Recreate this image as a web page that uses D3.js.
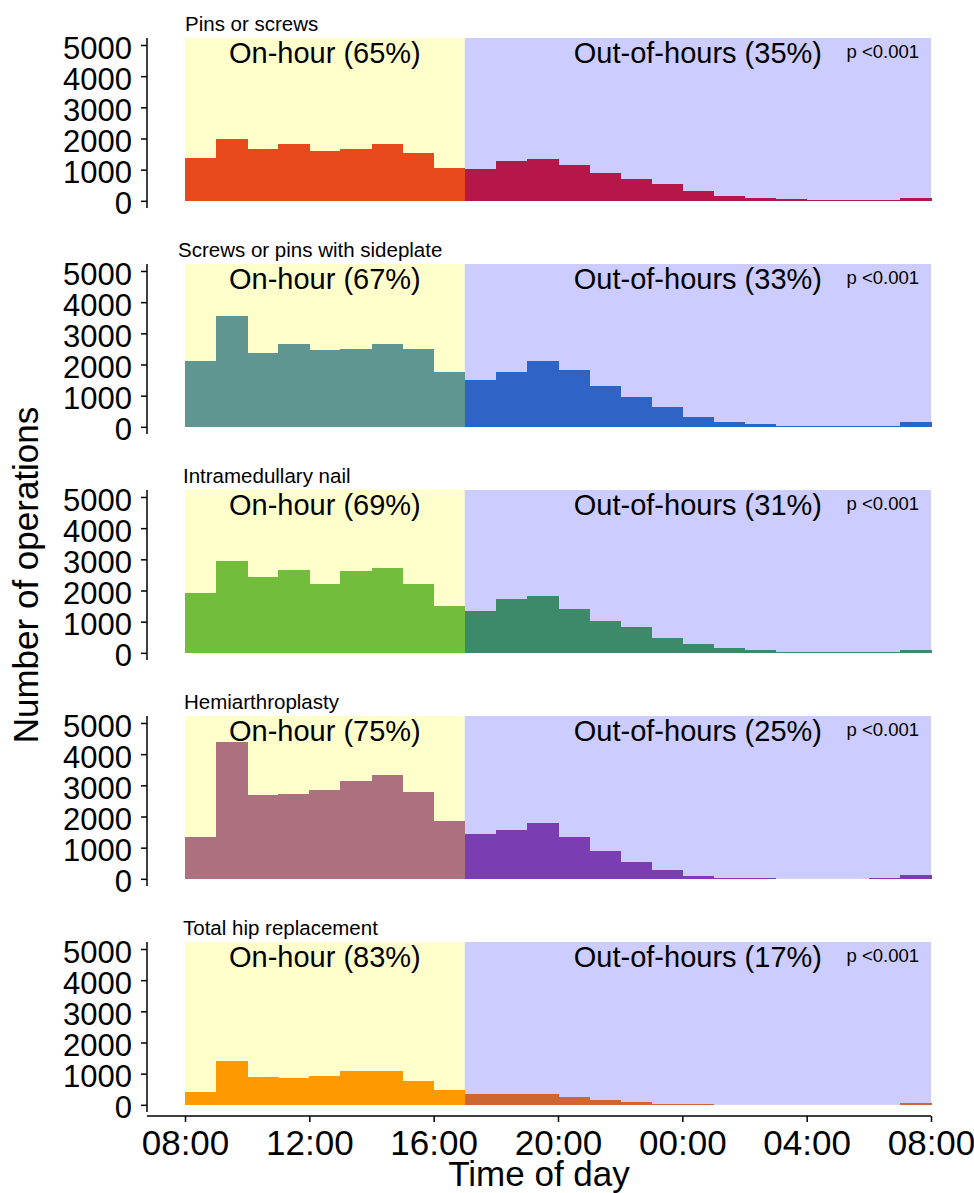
<!DOCTYPE html>
<html>
<head>
<meta charset="utf-8">
<script src="https://cdn.jsdelivr.net/npm/d3@7"></script>
<style>
  html, body { margin: 0; padding: 0; background: #fff; }
  svg text { font-family: "Liberation Sans", Arial, sans-serif; fill: #000; }
</style>
</head>
<body>
<svg id="chart" width="974" height="1193"></svg>
<script>
// Hourly operation counts, starting at 08:00 and running through 07:00 the next morning
const categories = [
  "Pins or screws",
  "Screws or pins with sideplate",
  "Intramedullary nail",
  "Hemiarthroplasty",
  "Total hip replacement"
];
const pinsOrScrews = [1390, 1970, 1650, 1810, 1590, 1670, 1810, 1550, 1040,
  1010, 1280, 1350, 1160, 880, 690, 540, 320, 160, 95, 55, 20, 20, 20, 105];
const screwsSideplate = [2120, 3540, 2360, 2650, 2470, 2500, 2660, 2500, 1750,
  1510, 1760, 2120, 1820, 1310, 970, 630, 330, 170, 75, 30, 20, 20, 20, 140];
const intramedullaryNail = [1930, 2960, 2420, 2650, 2200, 2630, 2720, 2220, 1490,
  1350, 1730, 1830, 1420, 1030, 815, 490, 270, 150, 75, 40, 20, 20, 20, 105];
const hemiarthroplasty = [1350, 4380, 2700, 2720, 2850, 3130, 3330, 2780, 1840,
  1450, 1570, 1780, 1330, 900, 525, 270, 95, 40, 20, 10, 5, 5, 20, 115];
const totalHip = [400, 1420, 890, 870, 910, 1070, 1070, 780, 460,
  360, 355, 345, 245, 140, 75, 32, 15, 8, 3, 0, 0, 0, 0, 50];
const seriesValues = [pinsOrScrews, screwsSideplate, intramedullaryNail, hemiarthroplasty, totalHip];

const onHourPct = [65, 67, 69, 75, 83];
const outOfHoursPct = [35, 33, 31, 25, 17];
const pValues = ["p <0.001", "p <0.001", "p <0.001", "p <0.001", "p <0.001"];

const onHourEnd = 9;          // 17:00, hours after 08:00
const hoursInDay = 24;
const yTicks = [0, 1000, 2000, 3000, 4000, 5000];
const xTicks = [0, 4, 8, 12, 16, 20, 24];
const xTickLabels = ["08:00", "12:00", "16:00", "20:00", "00:00", "04:00", "08:00"];

// Styling
const onColors  = ["#E8491A", "#5F9691", "#72BE3C", "#AC707E", "#FF9900"];
const offColors = ["#B51748", "#2D64C5", "#3C8A6A", "#7A3EB2", "#CC6633"];
const onBg = "#FFFFCC";
const offBg = "#CCCCFF";
const titleShift = [0, -7, -2, -1, -2];

// Layout
const panelStep = 226;
const panelTop = 38;     // top of first panel's plotting area
const panelBottom = 208; // bottom of first panel (axis line end)
const plotLeft = 185, plotRight = 931, axisX = 147;

const svg = d3.select("#chart");

const x = d3.scaleLinear().domain([0, hoursInDay]).range([plotLeft, plotRight]);

categories.forEach((name, i) => {
  const off = i * panelStep;
  const y = d3.scaleLinear()
    .domain([-230, 5224])
    .range([panelBottom + off, panelTop + off]);

  const g = svg.append("g");

  // shaded background: working hours vs out-of-hours
  g.append("rect")
    .attr("x", x(0)).attr("width", x(onHourEnd) - x(0))
    .attr("y", y(5224)).attr("height", y(0) - y(5224))
    .attr("fill", onBg);
  g.append("rect")
    .attr("x", x(onHourEnd)).attr("width", x(hoursInDay) - x(onHourEnd))
    .attr("y", y(5224)).attr("height", y(0) - y(5224))
    .attr("fill", offBg);

  // hourly bars
  g.selectAll("rect.bar")
    .data(seriesValues[i])
    .join("rect")
    .attr("class", "bar")
    .attr("shape-rendering", "crispEdges")
    .attr("x", (d, h) => x(h))
    .attr("width", (d, h) => x(h + 1) - x(h) + 0.5)
    .attr("y", d => y(d))
    .attr("height", d => y(0) - y(d))
    .attr("fill", (d, h) => h < onHourEnd ? onColors[i] : offColors[i]);

  // y axis
  const yAxis = d3.axisLeft(y)
    .tickValues(yTicks)
    .tickFormat(d3.format("d"))
    .tickSize(6)
    .tickSizeOuter(0)
    .tickPadding(9);
  const ya = g.append("g")
    .attr("transform", `translate(${axisX},0)`)
    .call(yAxis);
  ya.select(".domain").remove();
  ya.selectAll(".tick line").attr("stroke", "#000").attr("stroke-width", 1.5);
  ya.selectAll(".tick text")
    .attr("font-size", 31)
    .attr("dy", "0.42em")
    .style("font-family", "'Liberation Sans', Arial, sans-serif");
  g.append("line")
    .attr("x1", axisX).attr("x2", axisX)
    .attr("y1", y.range()[1]).attr("y2", y.range()[0])
    .attr("stroke", "#000").attr("stroke-width", 1.5);

  // panel title
  g.append("text")
    .attr("x", plotLeft + titleShift[i])
    .attr("y", panelTop + off - 7.5)
    .attr("font-size", 20.5)
    .text(name);

  // period labels
  g.append("text")
    .attr("x", (x(0) + x(onHourEnd)) / 2)
    .attr("y", panelTop + off + 25)
    .attr("text-anchor", "middle")
    .attr("font-size", 29)
    .text(`On-hour (${onHourPct[i]}%)`);
  g.append("text")
    .attr("x", (x(onHourEnd) + x(hoursInDay)) / 2)
    .attr("y", panelTop + off + 25)
    .attr("text-anchor", "middle")
    .attr("font-size", 29)
    .text(`Out-of-hours (${outOfHoursPct[i]}%)`);
  g.append("text")
    .attr("x", 919)
    .attr("y", panelTop + off + 20)
    .attr("text-anchor", "end")
    .attr("font-size", 18.5)
    .text(pValues[i]);

  // x axis on the bottom panel only
  if (i === categories.length - 1) {
    const axisY = y.range()[0] + 4;
    const xAxis = d3.axisBottom(x)
      .tickValues(xTicks)
      .tickFormat((d, k) => xTickLabels[k])
      .tickSize(6)
      .tickSizeOuter(0)
      .tickPadding(8);
    const xa = g.append("g")
      .attr("transform", `translate(0,${axisY})`)
      .call(xAxis);
    xa.select(".domain").remove();
    xa.selectAll(".tick line").attr("stroke", "#000").attr("stroke-width", 1.5);
    xa.selectAll(".tick text")
      .attr("font-size", 35)
      .style("font-family", "'Liberation Sans', Arial, sans-serif");
    g.append("line")
      .attr("x1", axisX).attr("x2", plotRight)
      .attr("y1", axisY).attr("y2", axisY)
      .attr("stroke", "#000").attr("stroke-width", 1.5);

    g.append("text")
      .attr("x", (axisX + plotRight) / 2)
      .attr("y", 1186)
      .attr("text-anchor", "middle")
      .attr("font-size", 35)
      .text("Time of day");
  }
});

// shared y axis title
svg.append("text")
  .attr("transform", "translate(38,575) rotate(-90)")
  .attr("text-anchor", "middle")
  .attr("font-size", 35)
  .text("Number of operations");
</script>
</body>
</html>
